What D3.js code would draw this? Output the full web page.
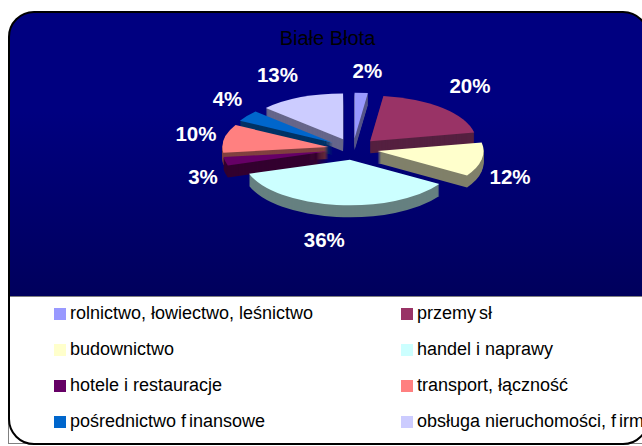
<!DOCTYPE html>
<html><head><meta charset="utf-8">
<script src="https://cdn.jsdelivr.net/npm/d3@7"></script>
<style>html,body{margin:0;padding:0;background:#fff;overflow:hidden}svg{display:block}</style>
</head><body><svg id="c" width="642" height="446"></svg>
<script>
const title = "Białe Błota";
const categories = ["rolnictwo, łowiectwo, leśnictwo","przemysł","budownictwo","handel i naprawy","hotele i restauracje","transport, łączność","pośrednictwo finansowe","obsługa nieruchomości, firm"];
const values = [2,20,12,36,3,10,4,13];
const faceColors = ["#9999FF","#993366","#FFFFCC","#CCFFFF","#660066","#FF8080","#0066CC","#CCCCFF"];
const wallColors = ["#55558a","#552040","#80806a","#668080","#33002f","#804040","#003366","#66668a"];
const labelNudge = [[4,2],[4,-5],[-5,13],[-8,12],[11,11],[5,0],[8,-3],[-10,-1]];

const svg=d3.select("#c");
const cx=353, cy=149, r=106, k=0.43, depth=12, explode=25;
const frame={x:9,y:12,w:639,h:432,rx:25}, legendTop=296.5;

const grad=svg.append("defs").append("linearGradient").attr("id","bg").attr("x1",0).attr("x2",0).attr("y1",frame.y).attr("y2",legendTop).attr("gradientUnits","userSpaceOnUse");
grad.append("stop").attr("offset",0.35).attr("stop-color","#000080");
grad.append("stop").attr("offset",1).attr("stop-color","#00005c");

svg.append("rect").attr("x",frame.x).attr("y",frame.y).attr("width",frame.w).attr("height",frame.h).attr("rx",frame.rx).attr("fill","url(#bg)");
svg.append("rect").attr("x",8.5).attr("y",legendTop).attr("width",frame.w).attr("height",443.5-legendTop).attr("fill","#fff").attr("stroke","#808080").attr("stroke-width",1);
svg.append("rect").attr("x",frame.x).attr("y",frame.y).attr("width",frame.w).attr("height",frame.h).attr("rx",frame.rx)
  .attr("fill","none").attr("stroke","#000").attr("stroke-width",2);

svg.append("text").attr("x",327.5).attr("y",45).attr("text-anchor","middle").attr("font-family","Liberation Sans").attr("font-size",20).attr("fill","#000").text(title);

const pie=d3.pie().sort(null).value(d=>d)(values);
const arc=d3.arc().innerRadius(0).outerRadius(r);
const slices=pie.map((p,i)=>{const mid=(p.startAngle+p.endAngle)/2;return {p,i,mid,
  ox:explode*Math.sin(mid), oy:-explode*Math.cos(mid)};});
const order=slices.slice().sort((a,b)=>(-Math.cos(a.mid))-(-Math.cos(b.mid))||a.i-b.i);
const pieG=svg.append("g");
order.forEach(s=>{
  const sg=pieG.append("g");
  sg.selectAll("path.w").data(d3.range(depth,0,-1)).join("path").attr("class","w")
    .attr("d",arc(s.p)).attr("fill",wallColors[s.i])
    .attr("transform",d=>`translate(${cx+s.ox},${cy+s.oy*k+d}) scale(1,${k})`);
  sg.append("path").attr("d",arc(s.p)).attr("fill",faceColors[s.i])
    .attr("transform",`translate(${cx+s.ox},${cy+s.oy*k}) scale(1,${k})`);
});

const lrx=165,lry=80;
svg.selectAll("text.l").data(slices).join("text").attr("class","l")
  .attr("x",s=>cx+lrx*Math.sin(s.mid)+labelNudge[s.i][0])
  .attr("y",s=>cy-lry*Math.cos(s.mid)+labelNudge[s.i][1]+7)
  .attr("text-anchor","middle").attr("font-family","Liberation Sans").attr("font-weight","bold")
  .attr("font-size",20.5).attr("fill","#fff").text(s=>values[s.i]+"%");

const colX=d3.scaleOrdinal().domain([0,1]).range([54,401]);
const rowY=d3.scalePoint().domain([0,1,2,3]).range([314,422]);
const leg=svg.selectAll("g.lg").data(categories).join("g").attr("class","lg")
  .attr("transform",(d,i)=>`translate(${colX(i%2)},${rowY(Math.floor(i/2))})`);
leg.append("rect").attr("x",0).attr("y",-6).attr("width",12).attr("height",12).attr("fill",(d,i)=>faceColors[i]);
const legText=leg.append("text").attr("x",16).attr("y",4.5).attr("font-family","Liberation Sans").attr("font-size",18).attr("fill","#000");
legText.each(function(d){
  const parts=d.split(/(?<=przemy)|(?<= f)(?=i)/);
  d3.select(this).selectAll("tspan").data(parts).join("tspan").attr("dx",(p,j)=>j?3:0).text(p=>p);
});
</script></body></html>
